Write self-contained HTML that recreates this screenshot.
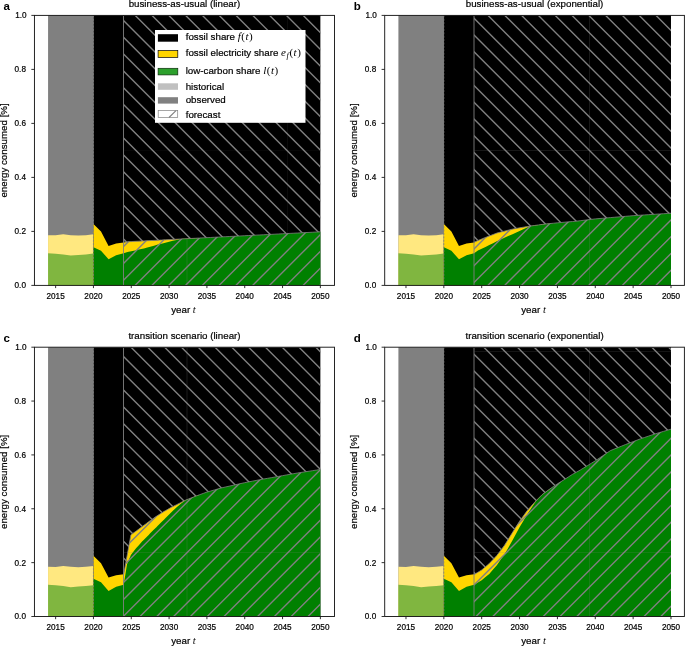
<!DOCTYPE html>
<html><head><meta charset="utf-8"><title>energy share scenarios</title>
<style>
html,body{margin:0;padding:0;background:#fff;}
body{width:685px;height:646px;overflow:hidden;}
svg{display:block;font-family:"Liberation Sans", sans-serif;fill:#000;will-change:transform;}
text{stroke:#000;stroke-width:0.2px;}
tspan.m{stroke-width:0;}
</style></head><body>
<svg width="685" height="646" viewBox="0 0 685 646">
<defs>
<clipPath id="cb0"><polygon points="123.71,15.89 320.37,15.89 320.37,231.84 316.59,232.03 312.81,232.23 309.03,232.42 305.25,232.62 301.46,232.81 297.68,233.01 293.9,233.2 290.12,233.39 286.34,233.59 282.55,233.78 278.77,233.98 274.99,234.17 271.21,234.37 267.43,234.56 263.64,234.76 259.86,234.95 256.08,235.14 252.3,235.34 248.52,235.53 244.73,235.73 240.95,235.92 237.17,236.12 233.39,236.31 229.61,236.5 225.82,236.7 222.04,236.89 218.26,237.09 214.48,237.28 210.7,237.48 206.91,237.67 203.13,237.87 199.35,238.06 195.57,238.25 191.79,238.45 188,238.64 184.22,238.84 180.44,239.03 176.66,239.23 172.88,239.42 169.09,239.62 165.31,239.81 161.53,240 159.26,240.12 157.75,240.2 153.97,240.39 150.18,240.59 146.4,240.78 143.98,240.91 142.62,240.98 138.84,241.17 135.06,241.37 131.27,241.56 127.49,241.75 123.71,241.95" fill="#000" /></clipPath>
<clipPath id="cl0"><polygon points="123.71,241.95 127.49,241.75 131.27,241.56 135.06,241.37 138.84,241.17 142.62,240.98 143.98,240.91 146.4,240.78 150.18,240.59 153.97,240.39 157.75,240.2 159.26,240.12 161.53,240 165.31,239.81 169.09,239.62 172.88,239.42 176.66,239.23 180.44,239.03 184.22,238.84 188,238.64 191.79,238.45 195.57,238.25 199.35,238.06 203.13,237.87 206.91,237.67 210.7,237.48 214.48,237.28 218.26,237.09 222.04,236.89 225.82,236.7 229.61,236.5 233.39,236.31 237.17,236.12 240.95,235.92 244.73,235.73 248.52,235.53 252.3,235.34 256.08,235.14 259.86,234.95 263.64,234.76 267.43,234.56 271.21,234.37 274.99,234.17 278.77,233.98 282.55,233.78 286.34,233.59 290.12,233.39 293.9,233.2 297.68,233.01 301.46,232.81 305.25,232.62 309.03,232.42 312.81,232.23 316.59,232.03 320.37,231.84 320.37,285.4 123.71,285.4" fill="#000" /></clipPath>
<clipPath id="cb1"><polygon points="474.12,15.89 670.99,15.89 670.99,213.24 667.21,213.48 663.42,213.72 659.63,213.96 655.85,214.21 652.06,214.45 648.28,214.69 644.49,214.93 640.7,215.18 636.92,215.42 633.13,215.66 629.35,215.99 625.56,216.31 621.77,216.63 617.99,216.96 614.2,217.28 610.42,217.6 606.63,217.93 602.84,218.25 599.06,218.57 595.27,218.9 591.49,219.36 587.7,219.81 583.91,220.27 580.13,220.73 576.34,221.19 572.56,221.54 568.77,221.85 564.98,222.16 561.2,222.48 557.41,222.84 553.63,223.21 549.84,223.58 546.05,223.95 542.27,224.43 538.48,224.94 534.7,225.46 530.91,225.97 527.12,226.56 523.34,227.2 519.55,227.85 515.77,228.49 511.98,229.25 508.19,230.2 504.41,231.14 500.62,232.09 496.84,233.09 493.05,234.54 489.26,235.99 485.48,237.45 481.69,238.99 477.91,240.54 474.12,242.08" fill="#000" /></clipPath>
<clipPath id="cl1"><polygon points="474.12,242.08 477.91,240.54 481.69,238.99 485.48,237.45 489.26,235.99 493.05,234.54 496.84,233.09 500.62,232.09 504.41,231.14 508.19,230.2 511.98,229.25 515.77,228.49 519.55,227.85 523.34,227.2 527.12,226.56 530.91,225.97 534.7,225.46 538.48,224.94 542.27,224.43 546.05,223.95 549.84,223.58 553.63,223.21 557.41,222.84 561.2,222.48 564.98,222.16 568.77,221.85 572.56,221.54 576.34,221.19 580.13,220.73 583.91,220.27 587.7,219.81 591.49,219.36 595.27,218.9 599.06,218.57 602.84,218.25 606.63,217.93 610.42,217.6 614.2,217.28 617.99,216.96 621.77,216.63 625.56,216.31 629.35,215.99 633.13,215.66 636.92,215.42 640.7,215.18 644.49,214.93 648.28,214.69 652.06,214.45 655.85,214.21 659.63,213.96 663.42,213.72 667.21,213.48 670.99,213.24 670.99,285.4 474.12,285.4" fill="#000" /></clipPath>
<clipPath id="cb2"><polygon points="123.71,347.74 320.37,347.74 320.37,469.46 316.59,470.05 312.81,470.63 309.03,471.21 305.25,471.8 301.46,472.38 297.68,472.96 293.9,473.64 290.12,474.31 286.34,474.98 282.55,475.66 278.77,476.33 274.99,477 271.21,477.68 267.43,478.35 263.64,479.02 259.86,479.7 256.08,480.44 252.3,481.18 248.52,481.92 244.73,482.66 240.95,483.51 237.17,484.36 233.39,485.22 229.61,486.07 225.82,486.92 222.04,487.77 218.26,488.85 214.48,489.93 210.7,491.01 206.91,492.08 203.13,493.45 199.35,494.82 197.69,495.42 195.57,496.25 191.79,497.72 188,499.2 185.81,500.05 184.22,500.85 180.44,502.74 179.61,503.15 176.66,504.63 172.88,506.54 171.89,507.03 169.09,508.6 165.31,510.73 164.18,511.37 161.53,513.04 157.75,515.43 156.39,516.29 153.97,518 150.18,520.67 148.67,521.73 146.4,523.43 142.62,526.25 142.47,526.37 138.84,529.08 136.27,531 135.06,531.87 131.27,534.6 130.9,534.88 127.49,553.55 127.04,556.04 123.71,574.3" fill="#000" /></clipPath>
<clipPath id="cl2"><polygon points="123.71,574.3 127.04,556.04 127.49,553.55 130.9,534.88 131.27,534.6 135.06,531.87 136.27,531 138.84,529.08 142.47,526.37 142.62,526.25 146.4,523.43 148.67,521.73 150.18,520.67 153.97,518 156.39,516.29 157.75,515.43 161.53,513.04 164.18,511.37 165.31,510.73 169.09,508.6 171.89,507.03 172.88,506.54 176.66,504.63 179.61,503.15 180.44,502.74 184.22,500.85 185.81,500.05 188,499.2 191.79,497.72 195.57,496.25 197.69,495.42 199.35,494.82 203.13,493.45 206.91,492.08 210.7,491.01 214.48,489.93 218.26,488.85 222.04,487.77 225.82,486.92 229.61,486.07 233.39,485.22 237.17,484.36 240.95,483.51 244.73,482.66 248.52,481.92 252.3,481.18 256.08,480.44 259.86,479.7 263.64,479.02 267.43,478.35 271.21,477.68 274.99,477 278.77,476.33 282.55,475.66 286.34,474.98 290.12,474.31 293.9,473.64 297.68,472.96 301.46,472.38 305.25,471.8 309.03,471.21 312.81,470.63 316.59,470.05 320.37,469.46 320.37,616.5 123.71,616.5" fill="#000" /></clipPath>
<clipPath id="cb3"><polygon points="474.12,347.74 670.99,347.74 670.99,429.17 667.21,430.29 663.42,431.41 659.63,432.53 655.85,433.65 652.06,434.92 648.28,436.2 644.49,437.48 640.7,438.76 636.92,440.2 633.13,441.64 629.35,443.08 625.56,444.53 621.77,446.05 617.99,447.57 614.2,449.09 610.42,450.61 606.63,453.17 602.84,455.73 599.06,458.29 595.27,460.84 591.49,463.17 587.7,465.49 583.91,467.81 580.13,470.14 576.34,472.22 572.56,474.31 568.77,476.73 564.98,479.16 561.2,481.5 557.41,483.84 553.63,486.41 549.84,488.99 546.05,491.75 542.27,494.51 538.48,498.33 537.72,499.1 534.7,502.16 530.91,506.48 527.12,510.8 523.34,516.04 519.55,521.28 515.77,527.28 511.98,533.29 508.19,539.35 504.41,545.4 500.62,550.44 496.84,555.48 493.05,559.5 489.26,563.53 485.48,566.75 481.69,569.96 477.91,572.28 474.12,574.6" fill="#000" /></clipPath>
<clipPath id="cl3"><polygon points="474.12,574.6 477.91,572.28 481.69,569.96 485.48,566.75 489.26,563.53 493.05,559.5 496.84,555.48 500.62,550.44 504.41,545.4 508.19,539.35 511.98,533.29 515.77,527.28 519.55,521.28 523.34,516.04 527.12,510.8 530.91,506.48 534.7,502.16 537.72,499.1 538.48,498.33 542.27,494.51 546.05,491.75 549.84,488.99 553.63,486.41 557.41,483.84 561.2,481.5 564.98,479.16 568.77,476.73 572.56,474.31 576.34,472.22 580.13,470.14 583.91,467.81 587.7,465.49 591.49,463.17 595.27,460.84 599.06,458.29 602.84,455.73 606.63,453.17 610.42,450.61 614.2,449.09 617.99,447.57 621.77,446.05 625.56,444.53 629.35,443.08 633.13,441.64 636.92,440.2 640.7,438.76 644.49,437.48 648.28,436.2 652.06,434.92 655.85,433.65 659.63,432.53 663.42,431.41 667.21,430.29 670.99,429.17 670.99,616.5 474.12,616.5" fill="#000" /></clipPath>
</defs>
<rect width="685" height="646" fill="#fff"/>
<g><polygon points="48.07,15.35 93.45,15.35 93.45,285.4 48.07,285.4" fill="#808080" />
<polygon points="48.07,235.15 55.63,235.34 63.2,234.35 70.76,235.15 78.33,235.61 85.89,235.15 93.45,234.35 93.45,285.4 48.07,285.4" fill="#ffe880" />
<polygon points="48.07,253.14 55.63,253.68 63.2,254.49 70.76,255.56 78.33,255.02 85.89,254.49 93.45,253.54 93.45,285.4 48.07,285.4" fill="#80b640" />
<polygon points="93.45,15.35 320.37,15.35 320.37,285.4 93.45,285.4" fill="#000" />
<polygon points="93.45,224.1 101.02,231.57 108.58,245.94 116.15,243.57 123.71,242.62 127.49,241.75 131.27,241.56 135.06,241.37 138.84,241.17 142.62,240.98 143.98,240.91 146.4,240.78 150.18,240.59 153.97,240.39 157.75,240.2 159.26,240.12 161.53,240 165.31,239.81 169.09,239.62 172.88,239.42 176.66,239.23 180.44,239.03 184.22,238.84 188,238.64 191.79,238.45 195.57,238.25 199.35,238.06 199.35,285.4 93.45,285.4" fill="#ffd500" />
<polygon points="93.45,247.21 101.02,250.71 108.58,259.34 116.15,255.13 123.71,253.14 127.49,252.05 131.27,251.24 135.06,250.42 138.84,249.61 142.62,248.79 143.98,248.5 146.4,247.82 150.18,246.75 153.97,245.68 157.75,244.61 159.26,244.19 161.53,243.63 165.31,242.7 169.09,241.77 172.88,240.84 176.66,239.91 180.44,239.03 184.22,238.84 188,238.64 191.79,238.45 195.57,238.25 199.35,238.06 203.13,237.87 206.91,237.67 210.7,237.48 214.48,237.28 218.26,237.09 222.04,236.89 225.82,236.7 229.61,236.5 233.39,236.31 237.17,236.12 240.95,235.92 244.73,235.73 248.52,235.53 252.3,235.34 256.08,235.14 259.86,234.95 263.64,234.76 267.43,234.56 271.21,234.37 274.99,234.17 278.77,233.98 282.55,233.78 286.34,233.59 290.12,233.39 293.9,233.2 297.68,233.01 301.46,232.81 305.25,232.62 309.03,232.42 312.81,232.23 316.59,232.03 320.37,231.84 320.37,285.4 93.45,285.4" fill="#008000" />
<path d="M-169.2 13.4L104.8 287.4M-152.4 13.4L121.6 287.4M-135.6 13.4L138.4 287.4M-118.8 13.4L155.2 287.4M-102 13.4L172 287.4M-85.2 13.4L188.8 287.4M-68.4 13.4L205.6 287.4M-51.6 13.4L222.4 287.4M-34.8 13.4L239.2 287.4M-18 13.4L256 287.4M-1.2 13.4L272.8 287.4M15.6 13.4L289.6 287.4M32.4 13.4L306.4 287.4M49.2 13.4L323.2 287.4M66 13.4L340 287.4M82.8 13.4L356.8 287.4M99.6 13.4L373.6 287.4M116.4 13.4L390.4 287.4M133.2 13.4L407.2 287.4M150 13.4L424 287.4M166.8 13.4L440.8 287.4M183.6 13.4L457.6 287.4M200.4 13.4L474.4 287.4M217.2 13.4L491.2 287.4M234 13.4L508 287.4M250.8 13.4L524.8 287.4M267.6 13.4L541.6 287.4M284.4 13.4L558.4 287.4M301.2 13.4L575.2 287.4M318 13.4L592 287.4M334.8 13.4L608.8 287.4M351.6 13.4L625.6 287.4" stroke="#808080" stroke-width="1.38" fill="none" clip-path="url(#cb0)"/>
<path d="M104.7 13.4L-169.3 287.4M121.5 13.4L-152.5 287.4M138.3 13.4L-135.7 287.4M155.1 13.4L-118.9 287.4M171.9 13.4L-102.1 287.4M188.7 13.4L-85.3 287.4M205.5 13.4L-68.5 287.4M222.3 13.4L-51.7 287.4M239.1 13.4L-34.9 287.4M255.9 13.4L-18.1 287.4M272.7 13.4L-1.3 287.4M289.5 13.4L15.5 287.4M306.3 13.4L32.3 287.4M323.1 13.4L49.1 287.4M339.9 13.4L65.9 287.4M356.7 13.4L82.7 287.4M373.5 13.4L99.5 287.4M390.3 13.4L116.3 287.4M407.1 13.4L133.1 287.4M423.9 13.4L149.9 287.4M440.7 13.4L166.7 287.4M457.5 13.4L183.5 287.4M474.3 13.4L200.3 287.4M491.1 13.4L217.1 287.4M507.9 13.4L233.9 287.4M524.7 13.4L250.7 287.4M541.5 13.4L267.5 287.4M558.3 13.4L284.3 287.4M575.1 13.4L301.1 287.4M591.9 13.4L317.9 287.4M608.7 13.4L334.7 287.4M625.5 13.4L351.5 287.4" stroke="#808080" stroke-width="1.38" fill="none" clip-path="url(#cl0)"/>
<line x1="187" y1="15.9" x2="187" y2="285.4" stroke="#808080" stroke-width="0.8" opacity="0.28" clip-path="url(#cl0)"/>
<line x1="287.5" y1="15.9" x2="287.5" y2="285.4" stroke="#808080" stroke-width="0.8" opacity="0.12" clip-path="url(#cb0)"/>
<line x1="123.71" y1="150.4" x2="320.37" y2="150.4" stroke="#808080" stroke-width="0.8" opacity="0.08" clip-path="url(#cb0)"/>
<polyline points="123.71,241.95 127.49,241.75 131.27,241.56 135.06,241.37 138.84,241.17 142.62,240.98 143.98,240.91 146.4,240.78 150.18,240.59 153.97,240.39 157.75,240.2 159.26,240.12 161.53,240 165.31,239.81 169.09,239.62 172.88,239.42 176.66,239.23 180.44,239.03 184.22,238.84 188,238.64 191.79,238.45 195.57,238.25 199.35,238.06 203.13,237.87 206.91,237.67 210.7,237.48 214.48,237.28 218.26,237.09 222.04,236.89 225.82,236.7 229.61,236.5 233.39,236.31 237.17,236.12 240.95,235.92 244.73,235.73 248.52,235.53 252.3,235.34 256.08,235.14 259.86,234.95 263.64,234.76 267.43,234.56 271.21,234.37 274.99,234.17 278.77,233.98 282.55,233.78 286.34,233.59 290.12,233.39 293.9,233.2 297.68,233.01 301.46,232.81 305.25,232.62 309.03,232.42 312.81,232.23 316.59,232.03 320.37,231.84" fill="none" stroke="#808080" stroke-width="0.8"/>
<line x1="123.5" y1="15.89" x2="123.5" y2="285.4" stroke="#808080" stroke-width="0.9"/>
<line x1="93.45" y1="15.35" x2="93.45" y2="285.4" stroke="#808080" stroke-width="0.8" stroke-dasharray="2 1.4"/>
<g><rect x="155" y="30" width="150.5" height="92.8" fill="#fff"/><rect x="157.9" y="34.2" width="20.1" height="7.5" fill="#000"/><rect x="158.1" y="50.6" width="19.700000000000003" height="6.8" fill="#ffd500" stroke="#000" stroke-width="0.7"/><rect x="158.1" y="68.3" width="19.700000000000003" height="6.6" fill="#2ca02c" stroke="#0a2a0a" stroke-width="0.7"/><rect x="157.9" y="83.3" width="20.1" height="6.5" fill="#c0c0c0"/><rect x="157.9" y="97.2" width="20.1" height="6.4" fill="#808080"/><rect x="158.20000000000002" y="110.6" width="19.5" height="6.9" fill="#fff" stroke="#808080" stroke-width="0.7"/><line x1="169" y1="117.5" x2="176" y2="110.6" stroke="#808080" stroke-width="1.1"/><text x="185.7" y="40.1" font-size="9.75">fossil share <tspan class="m" font-family='"Liberation Serif", serif' font-style="italic" font-size="11" letter-spacing="0.5">f</tspan><tspan class="m" font-family='"Liberation Serif", serif' font-size="11" letter-spacing="0.5">(</tspan><tspan class="m" font-family='"Liberation Serif", serif' font-style="italic" font-size="11" letter-spacing="0.5">t</tspan><tspan class="m" font-family='"Liberation Serif", serif' font-size="11" letter-spacing="0.5">)</tspan></text><text x="185.7" y="56.3" font-size="9.75">fossil electricity share <tspan class="m" font-family='"Liberation Serif", serif' font-style="italic" font-size="11" letter-spacing="0.5">e</tspan><tspan class="m" font-family='"Liberation Serif", serif' font-style="italic" font-size="8.5" dy="1.8" letter-spacing="0.6">f</tspan><tspan dy="-1.8"><tspan class="m" font-family='"Liberation Serif", serif' font-size="11" letter-spacing="0.5">(</tspan><tspan class="m" font-family='"Liberation Serif", serif' font-style="italic" font-size="11" letter-spacing="0.5">t</tspan><tspan class="m" font-family='"Liberation Serif", serif' font-size="11" letter-spacing="0.5">)</tspan></tspan></text><text x="185.7" y="73.8" font-size="9.75">low-carbon share <tspan class="m" font-family='"Liberation Serif", serif' font-style="italic" font-size="11" letter-spacing="0.5">l</tspan><tspan class="m" font-family='"Liberation Serif", serif' font-size="11" letter-spacing="0.5">(</tspan><tspan class="m" font-family='"Liberation Serif", serif' font-style="italic" font-size="11" letter-spacing="0.5">t</tspan><tspan class="m" font-family='"Liberation Serif", serif' font-size="11" letter-spacing="0.5">)</tspan></text><text x="185.7" y="89.5" font-size="9.75">historical</text><text x="185.7" y="103.4" font-size="9.75">observed</text><text x="185.7" y="117.5" font-size="9.75">forecast</text></g>
<rect x="34.45" y="15.4" width="300.05" height="270" fill="none" stroke="#1a1a1a" stroke-width="0.95"/>
<path d="M55.63 285.4v2.7M93.45 285.4v2.7M131.27 285.4v2.7M169.09 285.4v2.7M206.91 285.4v2.7M244.73 285.4v2.7M282.55 285.4v2.7M320.37 285.4v2.7M34.45 285.4h-3.1M34.45 231.4h-3.1M34.45 177.4h-3.1M34.45 123.4h-3.1M34.45 69.4h-3.1M34.45 15.4h-3.1" stroke="#1a1a1a" stroke-width="0.9" fill="none"/>
<text x="55.63" y="298.9" font-size="8.2" text-anchor="middle">2015</text>
<text x="93.45" y="298.9" font-size="8.2" text-anchor="middle">2020</text>
<text x="131.27" y="298.9" font-size="8.2" text-anchor="middle">2025</text>
<text x="169.09" y="298.9" font-size="8.2" text-anchor="middle">2030</text>
<text x="206.91" y="298.9" font-size="8.2" text-anchor="middle">2035</text>
<text x="244.73" y="298.9" font-size="8.2" text-anchor="middle">2040</text>
<text x="282.55" y="298.9" font-size="8.2" text-anchor="middle">2045</text>
<text x="320.37" y="298.9" font-size="8.2" text-anchor="middle">2050</text>
<text x="25.95" y="288.35" font-size="8.2" text-anchor="end">0.0</text>
<text x="25.95" y="234.35" font-size="8.2" text-anchor="end">0.2</text>
<text x="25.95" y="180.35" font-size="8.2" text-anchor="end">0.4</text>
<text x="25.95" y="126.35" font-size="8.2" text-anchor="end">0.6</text>
<text x="25.95" y="72.35" font-size="8.2" text-anchor="end">0.8</text>
<text x="26.65" y="18.35" font-size="8.2" text-anchor="end">1.0</text>
<text x="184.47" y="7.05" font-size="9.75" text-anchor="middle">business-as-usual (linear)</text>
<text x="183.47" y="312.6" font-size="9.75" text-anchor="middle">year <tspan class="m" font-family='"Liberation Serif", serif' font-style="italic" font-size="10.5">t</tspan></text>
<text transform="translate(6.85 150.4) rotate(-90)" font-size="9.75" text-anchor="middle">energy consumed [%]</text>
<text x="3.55" y="10.1" font-size="11.5" font-weight="bold" style="stroke-width:0">a</text></g>
<g><polygon points="398.4,15.35 443.83,15.35 443.83,285.4 398.4,285.4" fill="#808080" />
<polygon points="398.4,235.15 405.97,235.34 413.54,234.35 421.12,235.15 428.69,235.61 436.26,235.15 443.83,234.35 443.83,285.4 398.4,285.4" fill="#ffe880" />
<polygon points="398.4,253.14 405.97,253.68 413.54,254.49 421.12,255.56 428.69,255.02 436.26,254.49 443.83,253.54 443.83,285.4 398.4,285.4" fill="#80b640" />
<polygon points="443.83,15.35 670.99,15.35 670.99,285.4 443.83,285.4" fill="#000" />
<polygon points="443.83,224.1 451.4,231.57 458.98,245.94 466.55,243.57 474.12,242.62 477.91,240.54 481.69,238.99 485.48,237.45 489.26,235.99 493.05,234.54 496.84,233.09 500.62,232.09 504.41,231.14 508.19,230.2 511.98,229.25 515.77,228.49 519.55,227.85 523.34,227.2 527.12,226.56 530.91,225.97 534.7,225.46 538.48,224.94 542.27,224.43 546.05,223.95 549.84,223.58 549.84,285.4 443.83,285.4" fill="#ffd500" />
<polygon points="443.83,247.21 451.4,250.71 458.98,259.34 466.55,255.13 474.12,253.14 477.91,250.42 481.69,248.66 485.48,246.91 489.26,245.03 493.05,243.13 496.84,241.23 500.62,239.51 504.41,237.81 508.19,236.11 511.98,234.41 515.77,232.71 519.55,231.01 523.34,229.31 527.12,227.61 530.91,225.97 534.7,225.46 538.48,224.94 542.27,224.43 546.05,223.95 549.84,223.58 553.63,223.21 557.41,222.84 561.2,222.48 564.98,222.16 568.77,221.85 572.56,221.54 576.34,221.19 580.13,220.73 583.91,220.27 587.7,219.81 591.49,219.36 595.27,218.9 599.06,218.57 602.84,218.25 606.63,217.93 610.42,217.6 614.2,217.28 617.99,216.96 621.77,216.63 625.56,216.31 629.35,215.99 633.13,215.66 636.92,215.42 640.7,215.18 644.49,214.93 648.28,214.69 652.06,214.45 655.85,214.21 659.63,213.96 663.42,213.72 667.21,213.48 670.99,213.24 670.99,285.4 443.83,285.4" fill="#008000" />
<path d="M183.6 13.4L457.6 287.4M200.4 13.4L474.4 287.4M217.2 13.4L491.2 287.4M234 13.4L508 287.4M250.8 13.4L524.8 287.4M267.6 13.4L541.6 287.4M284.4 13.4L558.4 287.4M301.2 13.4L575.2 287.4M318 13.4L592 287.4M334.8 13.4L608.8 287.4M351.6 13.4L625.6 287.4M368.4 13.4L642.4 287.4M385.2 13.4L659.2 287.4M402 13.4L676 287.4M418.8 13.4L692.8 287.4M435.6 13.4L709.6 287.4M452.4 13.4L726.4 287.4M469.2 13.4L743.2 287.4M486 13.4L760 287.4M502.8 13.4L776.8 287.4M519.6 13.4L793.6 287.4M536.4 13.4L810.4 287.4M553.2 13.4L827.2 287.4M570 13.4L844 287.4M586.8 13.4L860.8 287.4M603.6 13.4L877.6 287.4M620.4 13.4L894.4 287.4M637.2 13.4L911.2 287.4M654 13.4L928 287.4M670.8 13.4L944.8 287.4M687.6 13.4L961.6 287.4" stroke="#808080" stroke-width="1.38" fill="none" clip-path="url(#cb1)"/>
<path d="M457.5 13.4L183.5 287.4M474.3 13.4L200.3 287.4M491.1 13.4L217.1 287.4M507.9 13.4L233.9 287.4M524.7 13.4L250.7 287.4M541.5 13.4L267.5 287.4M558.3 13.4L284.3 287.4M575.1 13.4L301.1 287.4M591.9 13.4L317.9 287.4M608.7 13.4L334.7 287.4M625.5 13.4L351.5 287.4M642.3 13.4L368.3 287.4M659.1 13.4L385.1 287.4M675.9 13.4L401.9 287.4M692.7 13.4L418.7 287.4M709.5 13.4L435.5 287.4M726.3 13.4L452.3 287.4M743.1 13.4L469.1 287.4M759.9 13.4L485.9 287.4M776.7 13.4L502.7 287.4M793.5 13.4L519.5 287.4M810.3 13.4L536.3 287.4M827.1 13.4L553.1 287.4M843.9 13.4L569.9 287.4M860.7 13.4L586.7 287.4M877.5 13.4L603.5 287.4M894.3 13.4L620.3 287.4M911.1 13.4L637.1 287.4M927.9 13.4L653.9 287.4M944.7 13.4L670.7 287.4M961.5 13.4L687.5 287.4" stroke="#808080" stroke-width="1.38" fill="none" clip-path="url(#cl1)"/>
<line x1="589.6" y1="15.9" x2="589.6" y2="285.4" stroke="#808080" stroke-width="0.8" opacity="0.28"/>
<line x1="474.12" y1="150.4" x2="670.99" y2="150.4" stroke="#808080" stroke-width="0.8" opacity="0.25" clip-path="url(#cb1)"/>
<polyline points="474.12,242.08 477.91,240.54 481.69,238.99 485.48,237.45 489.26,235.99 493.05,234.54 496.84,233.09 500.62,232.09 504.41,231.14 508.19,230.2 511.98,229.25 515.77,228.49 519.55,227.85 523.34,227.2 527.12,226.56 530.91,225.97 534.7,225.46 538.48,224.94 542.27,224.43 546.05,223.95 549.84,223.58 553.63,223.21 557.41,222.84 561.2,222.48 564.98,222.16 568.77,221.85 572.56,221.54 576.34,221.19 580.13,220.73 583.91,220.27 587.7,219.81 591.49,219.36 595.27,218.9 599.06,218.57 602.84,218.25 606.63,217.93 610.42,217.6 614.2,217.28 617.99,216.96 621.77,216.63 625.56,216.31 629.35,215.99 633.13,215.66 636.92,215.42 640.7,215.18 644.49,214.93 648.28,214.69 652.06,214.45 655.85,214.21 659.63,213.96 663.42,213.72 667.21,213.48 670.99,213.24" fill="none" stroke="#808080" stroke-width="0.8"/>
<line x1="474" y1="15.89" x2="474" y2="285.4" stroke="#808080" stroke-width="0.9"/>
<line x1="443.83" y1="15.35" x2="443.83" y2="285.4" stroke="#808080" stroke-width="0.8" stroke-dasharray="2 1.4"/>
<rect x="384.7" y="15.4" width="299.7" height="270" fill="none" stroke="#1a1a1a" stroke-width="0.95"/>
<path d="M405.97 285.4v2.7M443.83 285.4v2.7M481.69 285.4v2.7M519.55 285.4v2.7M557.41 285.4v2.7M595.27 285.4v2.7M633.13 285.4v2.7M670.99 285.4v2.7M384.7 285.4h-3.1M384.7 231.4h-3.1M384.7 177.4h-3.1M384.7 123.4h-3.1M384.7 69.4h-3.1M384.7 15.4h-3.1" stroke="#1a1a1a" stroke-width="0.9" fill="none"/>
<text x="405.97" y="298.9" font-size="8.2" text-anchor="middle">2015</text>
<text x="443.83" y="298.9" font-size="8.2" text-anchor="middle">2020</text>
<text x="481.69" y="298.9" font-size="8.2" text-anchor="middle">2025</text>
<text x="519.55" y="298.9" font-size="8.2" text-anchor="middle">2030</text>
<text x="557.41" y="298.9" font-size="8.2" text-anchor="middle">2035</text>
<text x="595.27" y="298.9" font-size="8.2" text-anchor="middle">2040</text>
<text x="633.13" y="298.9" font-size="8.2" text-anchor="middle">2045</text>
<text x="670.99" y="298.9" font-size="8.2" text-anchor="middle">2050</text>
<text x="376.2" y="288.35" font-size="8.2" text-anchor="end">0.0</text>
<text x="376.2" y="234.35" font-size="8.2" text-anchor="end">0.2</text>
<text x="376.2" y="180.35" font-size="8.2" text-anchor="end">0.4</text>
<text x="376.2" y="126.35" font-size="8.2" text-anchor="end">0.6</text>
<text x="376.2" y="72.35" font-size="8.2" text-anchor="end">0.8</text>
<text x="376.9" y="18.35" font-size="8.2" text-anchor="end">1.0</text>
<text x="534.55" y="7.05" font-size="9.75" text-anchor="middle">business-as-usual (exponential)</text>
<text x="533.55" y="312.6" font-size="9.75" text-anchor="middle">year <tspan class="m" font-family='"Liberation Serif", serif' font-style="italic" font-size="10.5">t</tspan></text>
<text transform="translate(357.1 150.4) rotate(-90)" font-size="9.75" text-anchor="middle">energy consumed [%]</text>
<text x="353.8" y="10.1" font-size="11.5" font-weight="bold" style="stroke-width:0">b</text></g>
<g><polygon points="48.07,347.2 93.45,347.2 93.45,616.5 48.07,616.5" fill="#808080" />
<polygon points="48.07,566.76 55.63,566.95 63.2,565.95 70.76,566.76 78.33,567.22 85.89,566.76 93.45,565.95 93.45,616.5 48.07,616.5" fill="#ffe880" />
<polygon points="48.07,584.72 55.63,585.26 63.2,586.07 70.76,587.15 78.33,586.61 85.89,586.07 93.45,585.13 93.45,616.5 48.07,616.5" fill="#80b640" />
<polygon points="93.45,347.2 320.37,347.2 320.37,616.5 93.45,616.5" fill="#000" />
<polygon points="93.45,555.72 101.02,563.18 108.58,577.53 116.15,575.16 123.71,574.22 127.04,556.04 127.49,553.55 130.9,534.88 131.27,534.6 135.06,531.87 136.27,531 138.84,529.08 142.47,526.37 142.62,526.25 146.4,523.43 148.67,521.73 150.18,520.67 153.97,518 156.39,516.29 157.75,515.43 161.53,513.04 164.18,511.37 165.31,510.73 169.09,508.6 171.89,507.03 172.88,506.54 176.66,504.63 179.61,503.15 180.44,502.74 184.22,500.85 185.81,500.05 188,499.2 191.79,497.72 195.57,496.25 197.69,495.42 199.35,494.82 199.35,616.5 93.45,616.5" fill="#ffd500" />
<polygon points="93.45,578.8 101.02,582.3 108.58,590.92 116.15,586.72 123.71,584.72 127.04,564.28 127.49,563.19 130.9,554.99 131.27,554.5 135.06,549.59 136.27,548.02 138.84,545.14 142.47,541.07 142.62,540.92 146.4,537.14 148.67,534.88 150.18,533.36 153.97,529.57 156.39,527.15 157.75,525.79 161.53,522.03 164.18,519.39 165.31,518.25 169.09,514.47 171.89,511.66 172.88,510.78 176.66,507.37 179.61,504.71 180.44,504.09 184.22,501.25 185.81,500.05 188,499.2 191.79,497.72 195.57,496.25 197.69,495.42 199.35,494.82 203.13,493.45 206.91,492.08 210.7,491.01 214.48,489.93 218.26,488.85 222.04,487.77 225.82,486.92 229.61,486.07 233.39,485.22 237.17,484.36 240.95,483.51 244.73,482.66 248.52,481.92 252.3,481.18 256.08,480.44 259.86,479.7 263.64,479.02 267.43,478.35 271.21,477.68 274.99,477 278.77,476.33 282.55,475.66 286.34,474.98 290.12,474.31 293.9,473.64 297.68,472.96 301.46,472.38 305.25,471.8 309.03,471.21 312.81,470.63 316.59,470.05 320.37,469.46 320.37,616.5 93.45,616.5" fill="#008000" />
<path d="M-173.4 345.2L99.9 618.5M-156.6 345.2L116.7 618.5M-139.8 345.2L133.5 618.5M-123 345.2L150.3 618.5M-106.2 345.2L167.1 618.5M-89.4 345.2L183.9 618.5M-72.6 345.2L200.7 618.5M-55.8 345.2L217.5 618.5M-39 345.2L234.3 618.5M-22.2 345.2L251.1 618.5M-5.4 345.2L267.9 618.5M11.4 345.2L284.7 618.5M28.2 345.2L301.5 618.5M45 345.2L318.3 618.5M61.8 345.2L335.1 618.5M78.6 345.2L351.9 618.5M95.4 345.2L368.7 618.5M112.2 345.2L385.5 618.5M129 345.2L402.3 618.5M145.8 345.2L419.1 618.5M162.6 345.2L435.9 618.5M179.4 345.2L452.7 618.5M196.2 345.2L469.5 618.5M213 345.2L486.3 618.5M229.8 345.2L503.1 618.5M246.6 345.2L519.9 618.5M263.4 345.2L536.7 618.5M280.2 345.2L553.5 618.5M297 345.2L570.3 618.5M313.8 345.2L587.1 618.5M330.6 345.2L603.9 618.5M347.4 345.2L620.7 618.5" stroke="#808080" stroke-width="1.38" fill="none" clip-path="url(#cb2)"/>
<path d="M108.9 345.2L-164.4 618.5M125.7 345.2L-147.6 618.5M142.5 345.2L-130.8 618.5M159.3 345.2L-114 618.5M176.1 345.2L-97.2 618.5M192.9 345.2L-80.4 618.5M209.7 345.2L-63.6 618.5M226.5 345.2L-46.8 618.5M243.3 345.2L-30 618.5M260.1 345.2L-13.2 618.5M276.9 345.2L3.6 618.5M293.7 345.2L20.4 618.5M310.5 345.2L37.2 618.5M327.3 345.2L54 618.5M344.1 345.2L70.8 618.5M360.9 345.2L87.6 618.5M377.7 345.2L104.4 618.5M394.5 345.2L121.2 618.5M411.3 345.2L138 618.5M428.1 345.2L154.8 618.5M444.9 345.2L171.6 618.5M461.7 345.2L188.4 618.5M478.5 345.2L205.2 618.5M495.3 345.2L222 618.5M512.1 345.2L238.8 618.5M528.9 345.2L255.6 618.5M545.7 345.2L272.4 618.5M562.5 345.2L289.2 618.5M579.3 345.2L306 618.5M596.1 345.2L322.8 618.5M612.9 345.2L339.6 618.5" stroke="#808080" stroke-width="1.38" fill="none" clip-path="url(#cl2)"/>
<line x1="187" y1="347.7" x2="187" y2="616.5" stroke="#808080" stroke-width="0.8" opacity="0.28"/>
<line x1="123.71" y1="552.5" x2="320.37" y2="552.5" stroke="#808080" stroke-width="0.8" opacity="0.22"/>
<polyline points="123.71,574.3 127.04,556.04 127.49,553.55 130.9,534.88 131.27,534.6 135.06,531.87 136.27,531 138.84,529.08 142.47,526.37 142.62,526.25 146.4,523.43 148.67,521.73 150.18,520.67 153.97,518 156.39,516.29 157.75,515.43 161.53,513.04 164.18,511.37 165.31,510.73 169.09,508.6 171.89,507.03 172.88,506.54 176.66,504.63 179.61,503.15 180.44,502.74 184.22,500.85 185.81,500.05 188,499.2 191.79,497.72 195.57,496.25 197.69,495.42 199.35,494.82 203.13,493.45 206.91,492.08 210.7,491.01 214.48,489.93 218.26,488.85 222.04,487.77 225.82,486.92 229.61,486.07 233.39,485.22 237.17,484.36 240.95,483.51 244.73,482.66 248.52,481.92 252.3,481.18 256.08,480.44 259.86,479.7 263.64,479.02 267.43,478.35 271.21,477.68 274.99,477 278.77,476.33 282.55,475.66 286.34,474.98 290.12,474.31 293.9,473.64 297.68,472.96 301.46,472.38 305.25,471.8 309.03,471.21 312.81,470.63 316.59,470.05 320.37,469.46" fill="none" stroke="#808080" stroke-width="0.8"/>
<line x1="123.5" y1="347.74" x2="123.5" y2="616.5" stroke="#808080" stroke-width="0.9"/>
<line x1="93.45" y1="347.2" x2="93.45" y2="616.5" stroke="#808080" stroke-width="0.8" stroke-dasharray="2 1.4"/>
<rect x="34.45" y="347.2" width="300.05" height="269.3" fill="none" stroke="#1a1a1a" stroke-width="0.95"/>
<path d="M55.63 616.5v2.7M93.45 616.5v2.7M131.27 616.5v2.7M169.09 616.5v2.7M206.91 616.5v2.7M244.73 616.5v2.7M282.55 616.5v2.7M320.37 616.5v2.7M34.45 616.5h-3.1M34.45 562.64h-3.1M34.45 508.78h-3.1M34.45 454.92h-3.1M34.45 401.06h-3.1M34.45 347.2h-3.1" stroke="#1a1a1a" stroke-width="0.9" fill="none"/>
<text x="55.63" y="630" font-size="8.2" text-anchor="middle">2015</text>
<text x="93.45" y="630" font-size="8.2" text-anchor="middle">2020</text>
<text x="131.27" y="630" font-size="8.2" text-anchor="middle">2025</text>
<text x="169.09" y="630" font-size="8.2" text-anchor="middle">2030</text>
<text x="206.91" y="630" font-size="8.2" text-anchor="middle">2035</text>
<text x="244.73" y="630" font-size="8.2" text-anchor="middle">2040</text>
<text x="282.55" y="630" font-size="8.2" text-anchor="middle">2045</text>
<text x="320.37" y="630" font-size="8.2" text-anchor="middle">2050</text>
<text x="25.95" y="619.45" font-size="8.2" text-anchor="end">0.0</text>
<text x="25.95" y="565.59" font-size="8.2" text-anchor="end">0.2</text>
<text x="25.95" y="511.73" font-size="8.2" text-anchor="end">0.4</text>
<text x="25.95" y="457.87" font-size="8.2" text-anchor="end">0.6</text>
<text x="25.95" y="404.01" font-size="8.2" text-anchor="end">0.8</text>
<text x="26.65" y="350.15" font-size="8.2" text-anchor="end">1.0</text>
<text x="184.47" y="338.85" font-size="9.75" text-anchor="middle">transition scenario (linear)</text>
<text x="183.47" y="643.7" font-size="9.75" text-anchor="middle">year <tspan class="m" font-family='"Liberation Serif", serif' font-style="italic" font-size="10.5">t</tspan></text>
<text transform="translate(6.85 481.85) rotate(-90)" font-size="9.75" text-anchor="middle">energy consumed [%]</text>
<text x="3.55" y="341.9" font-size="11.5" font-weight="bold" style="stroke-width:0">c</text></g>
<g><polygon points="398.4,347.2 443.83,347.2 443.83,616.5 398.4,616.5" fill="#808080" />
<polygon points="398.4,566.76 405.97,566.95 413.54,565.95 421.12,566.76 428.69,567.22 436.26,566.76 443.83,565.95 443.83,616.5 398.4,616.5" fill="#ffe880" />
<polygon points="398.4,584.72 405.97,585.26 413.54,586.07 421.12,587.15 428.69,586.61 436.26,586.07 443.83,585.13 443.83,616.5 398.4,616.5" fill="#80b640" />
<polygon points="443.83,347.2 670.99,347.2 670.99,616.5 443.83,616.5" fill="#000" />
<polygon points="443.83,555.72 451.4,563.18 458.98,577.53 466.55,575.16 474.12,574.22 477.91,572.28 481.69,569.96 485.48,566.75 489.26,563.53 493.05,559.5 496.84,555.48 500.62,550.44 504.41,545.4 508.19,539.35 511.98,533.29 515.77,527.28 519.55,521.28 523.34,516.04 527.12,510.8 530.91,506.48 534.7,502.16 537.72,499.1 538.48,498.33 542.27,494.51 546.05,491.75 549.84,488.99 549.84,616.5 443.83,616.5" fill="#ffd500" />
<polygon points="443.83,578.8 451.4,582.3 458.98,590.92 466.55,586.72 474.12,584.72 477.91,582.47 481.69,580.23 485.48,577.11 489.26,574 493.05,569.61 496.84,565.23 500.62,559.83 504.41,554.43 508.19,547.9 511.98,541.37 515.77,534.36 519.55,527.36 523.34,520.94 527.12,514.52 530.91,508.74 534.7,502.96 537.72,499.1 538.48,498.33 542.27,494.51 546.05,491.75 549.84,488.99 553.63,486.41 557.41,483.84 561.2,481.5 564.98,479.16 568.77,476.73 572.56,474.31 576.34,472.22 580.13,470.14 583.91,467.81 587.7,465.49 591.49,463.17 595.27,460.84 599.06,458.29 602.84,455.73 606.63,453.17 610.42,450.61 614.2,449.09 617.99,447.57 621.77,446.05 625.56,444.53 629.35,443.08 633.13,441.64 636.92,440.2 640.7,438.76 644.49,437.48 648.28,436.2 652.06,434.92 655.85,433.65 659.63,432.53 663.42,431.41 667.21,430.29 670.99,429.17 670.99,616.5 443.83,616.5" fill="#008000" />
<path d="M179.4 345.2L452.7 618.5M196.2 345.2L469.5 618.5M213 345.2L486.3 618.5M229.8 345.2L503.1 618.5M246.6 345.2L519.9 618.5M263.4 345.2L536.7 618.5M280.2 345.2L553.5 618.5M297 345.2L570.3 618.5M313.8 345.2L587.1 618.5M330.6 345.2L603.9 618.5M347.4 345.2L620.7 618.5M364.2 345.2L637.5 618.5M381 345.2L654.3 618.5M397.8 345.2L671.1 618.5M414.6 345.2L687.9 618.5M431.4 345.2L704.7 618.5M448.2 345.2L721.5 618.5M465 345.2L738.3 618.5M481.8 345.2L755.1 618.5M498.6 345.2L771.9 618.5M515.4 345.2L788.7 618.5M532.2 345.2L805.5 618.5M549 345.2L822.3 618.5M565.8 345.2L839.1 618.5M582.6 345.2L855.9 618.5M599.4 345.2L872.7 618.5M616.2 345.2L889.5 618.5M633 345.2L906.3 618.5M649.8 345.2L923.1 618.5M666.6 345.2L939.9 618.5M683.4 345.2L956.7 618.5M700.2 345.2L973.5 618.5" stroke="#808080" stroke-width="1.38" fill="none" clip-path="url(#cb3)"/>
<path d="M444.9 345.2L171.6 618.5M461.7 345.2L188.4 618.5M478.5 345.2L205.2 618.5M495.3 345.2L222 618.5M512.1 345.2L238.8 618.5M528.9 345.2L255.6 618.5M545.7 345.2L272.4 618.5M562.5 345.2L289.2 618.5M579.3 345.2L306 618.5M596.1 345.2L322.8 618.5M612.9 345.2L339.6 618.5M629.7 345.2L356.4 618.5M646.5 345.2L373.2 618.5M663.3 345.2L390 618.5M680.1 345.2L406.8 618.5M696.9 345.2L423.6 618.5M713.7 345.2L440.4 618.5M730.5 345.2L457.2 618.5M747.3 345.2L474 618.5M764.1 345.2L490.8 618.5M780.9 345.2L507.6 618.5M797.7 345.2L524.4 618.5M814.5 345.2L541.2 618.5M831.3 345.2L558 618.5M848.1 345.2L574.8 618.5M864.9 345.2L591.6 618.5M881.7 345.2L608.4 618.5M898.5 345.2L625.2 618.5M915.3 345.2L642 618.5M932.1 345.2L658.8 618.5M948.9 345.2L675.6 618.5M965.7 345.2L692.4 618.5" stroke="#808080" stroke-width="1.38" fill="none" clip-path="url(#cl3)"/>
<line x1="589.6" y1="347.7" x2="589.6" y2="616.5" stroke="#808080" stroke-width="0.8" opacity="0.28"/>
<line x1="474.12" y1="552.5" x2="670.99" y2="552.5" stroke="#808080" stroke-width="0.8" opacity="0.22"/>
<line x1="474.12" y1="351.6" x2="670.99" y2="351.6" stroke="#808080" stroke-width="0.8" opacity="0.22" clip-path="url(#cb3)"/>
<polyline points="474.12,574.6 477.91,572.28 481.69,569.96 485.48,566.75 489.26,563.53 493.05,559.5 496.84,555.48 500.62,550.44 504.41,545.4 508.19,539.35 511.98,533.29 515.77,527.28 519.55,521.28 523.34,516.04 527.12,510.8 530.91,506.48 534.7,502.16 537.72,499.1 538.48,498.33 542.27,494.51 546.05,491.75 549.84,488.99 553.63,486.41 557.41,483.84 561.2,481.5 564.98,479.16 568.77,476.73 572.56,474.31 576.34,472.22 580.13,470.14 583.91,467.81 587.7,465.49 591.49,463.17 595.27,460.84 599.06,458.29 602.84,455.73 606.63,453.17 610.42,450.61 614.2,449.09 617.99,447.57 621.77,446.05 625.56,444.53 629.35,443.08 633.13,441.64 636.92,440.2 640.7,438.76 644.49,437.48 648.28,436.2 652.06,434.92 655.85,433.65 659.63,432.53 663.42,431.41 667.21,430.29 670.99,429.17" fill="none" stroke="#808080" stroke-width="0.8"/>
<line x1="474" y1="347.74" x2="474" y2="616.5" stroke="#808080" stroke-width="0.9"/>
<line x1="443.83" y1="347.2" x2="443.83" y2="616.5" stroke="#808080" stroke-width="0.8" stroke-dasharray="2 1.4"/>
<rect x="384.7" y="347.2" width="299.7" height="269.3" fill="none" stroke="#1a1a1a" stroke-width="0.95"/>
<path d="M405.97 616.5v2.7M443.83 616.5v2.7M481.69 616.5v2.7M519.55 616.5v2.7M557.41 616.5v2.7M595.27 616.5v2.7M633.13 616.5v2.7M670.99 616.5v2.7M384.7 616.5h-3.1M384.7 562.64h-3.1M384.7 508.78h-3.1M384.7 454.92h-3.1M384.7 401.06h-3.1M384.7 347.2h-3.1" stroke="#1a1a1a" stroke-width="0.9" fill="none"/>
<text x="405.97" y="630" font-size="8.2" text-anchor="middle">2015</text>
<text x="443.83" y="630" font-size="8.2" text-anchor="middle">2020</text>
<text x="481.69" y="630" font-size="8.2" text-anchor="middle">2025</text>
<text x="519.55" y="630" font-size="8.2" text-anchor="middle">2030</text>
<text x="557.41" y="630" font-size="8.2" text-anchor="middle">2035</text>
<text x="595.27" y="630" font-size="8.2" text-anchor="middle">2040</text>
<text x="633.13" y="630" font-size="8.2" text-anchor="middle">2045</text>
<text x="670.99" y="630" font-size="8.2" text-anchor="middle">2050</text>
<text x="376.2" y="619.45" font-size="8.2" text-anchor="end">0.0</text>
<text x="376.2" y="565.59" font-size="8.2" text-anchor="end">0.2</text>
<text x="376.2" y="511.73" font-size="8.2" text-anchor="end">0.4</text>
<text x="376.2" y="457.87" font-size="8.2" text-anchor="end">0.6</text>
<text x="376.2" y="404.01" font-size="8.2" text-anchor="end">0.8</text>
<text x="376.9" y="350.15" font-size="8.2" text-anchor="end">1.0</text>
<text x="534.55" y="338.85" font-size="9.75" text-anchor="middle">transition scenario (exponential)</text>
<text x="533.55" y="643.7" font-size="9.75" text-anchor="middle">year <tspan class="m" font-family='"Liberation Serif", serif' font-style="italic" font-size="10.5">t</tspan></text>
<text transform="translate(357.1 481.85) rotate(-90)" font-size="9.75" text-anchor="middle">energy consumed [%]</text>
<text x="353.8" y="341.9" font-size="11.5" font-weight="bold" style="stroke-width:0">d</text></g>
</svg>
</body></html>
